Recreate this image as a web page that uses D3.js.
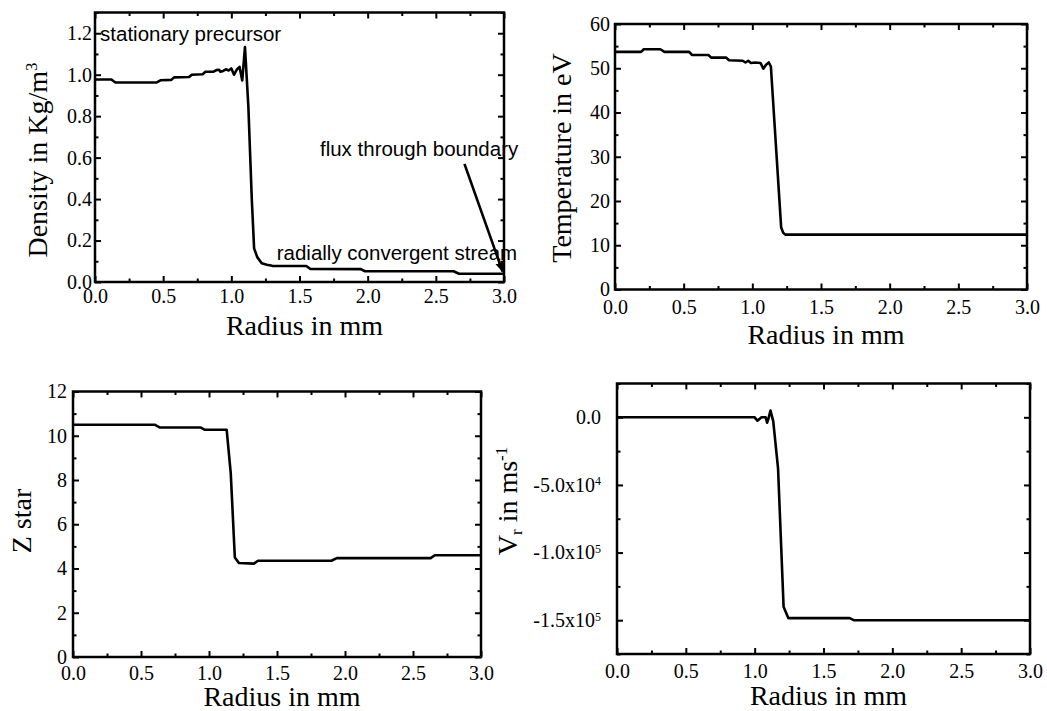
<!DOCTYPE html>
<html>
<head>
<meta charset="utf-8">
<script src="https://cdn.jsdelivr.net/npm/d3@7"></script>
<style>
  html, body { margin: 0; padding: 0; background: #fff; }
  svg { display: block; }
  .tick text { font-family: 'Liberation Serif', 'Times New Roman', serif !important; }
</style>
</head>
<body>
<svg id="chart" width="1047" height="711"></svg>
<script>
// ---------------- DATA ----------------
const xMajorTicks = [0, 0.5, 1.0, 1.5, 2.0, 2.5, 3.0];
const xMinorTicks = [0.25, 0.75, 1.25, 1.75, 2.25, 2.75];
const xTickLabels = ["0.0", "0.5", "1.0", "1.5", "2.0", "2.5", "3.0"];

// Density (Kg/m^3)
const densityR = [0, 0.12, 0.15, 0.45, 0.48, 0.56, 0.58, 0.69, 0.71, 0.79, 0.81, 0.87, 0.89, 0.91, 0.92, 0.94, 0.96, 0.98, 1.00, 1.02, 1.04, 1.06, 1.08, 1.10, 1.125, 1.15, 1.167, 1.19, 1.223, 1.26, 1.30, 1.55, 1.58, 1.95, 1.98, 2.63, 2.67, 3.0];
const densityV = [0.977, 0.977, 0.962, 0.962, 0.973, 0.975, 0.987, 0.989, 1.000, 1.002, 1.014, 1.015, 1.022, 1.024, 1.014, 1.018, 1.026, 1.020, 1.030, 1.000, 1.024, 1.038, 0.972, 1.133, 0.845, 0.40, 0.162, 0.12, 0.090, 0.083, 0.078, 0.077, 0.063, 0.062, 0.052, 0.052, 0.040, 0.040];
const densityTicks = [0, 0.2, 0.4, 0.6, 0.8, 1.0, 1.2];
const densityMinor = [0.1, 0.3, 0.5, 0.7, 0.9, 1.1, 1.3];
const densityTickLabels = ["0.0", "0.2", "0.4", "0.6", "0.8", "1.0", "1.2"];

// Temperature (eV)
const tempR = [0, 0.19, 0.21, 0.33, 0.36, 0.54, 0.56, 0.68, 0.70, 0.81, 0.83, 0.93, 0.95, 0.97, 0.99, 1.02, 1.06, 1.08, 1.10, 1.12, 1.135, 1.21, 1.225, 1.24, 3.0];
const tempV = [53.7, 53.7, 54.3, 54.3, 53.7, 53.7, 53.0, 53.0, 52.4, 52.4, 51.8, 51.7, 51.3, 51.7, 51.2, 51.3, 51.2, 49.9, 50.8, 51.3, 50.4, 14.0, 12.8, 12.4, 12.4];
const tempTicks = [0, 10, 20, 30, 40, 50, 60];
const tempMinor = [5, 15, 25, 35, 45, 55];
const tempTickLabels = ["0", "10", "20", "30", "40", "50", "60"];

// Z star
const zR = [0, 0.60, 0.64, 0.94, 0.97, 1.13, 1.16, 1.19, 1.22, 1.33, 1.36, 1.90, 1.94, 2.63, 2.66, 3.0];
const zV = [10.5, 10.5, 10.37, 10.37, 10.27, 10.27, 8.3, 4.5, 4.25, 4.22, 4.35, 4.35, 4.47, 4.47, 4.6, 4.6];
const zTicks = [0, 2, 4, 6, 8, 10, 12];
const zMinor = [1, 3, 5, 7, 9, 11];
const zTickLabels = ["0", "2", "4", "6", "8", "10", "12"];

// Radial velocity V_r (m/s)
const vrR = [0, 1.00, 1.02, 1.05, 1.08, 1.09, 1.10, 1.115, 1.135, 1.17, 1.21, 1.245, 1.69, 1.72, 3.0];
const vrV = [0, 0, -2500, 0, 0, -4000, -1000, 5000, -3000, -38000, -140000, -148500, -148500, -150000, -150000];
const vrTicks = [0, -50000, -100000, -150000];
const vrMinor = [25000, -25000, -75000, -125000, -175000];
const vrTickMantissa = ["0.0", "-5.0x10", "-1.0x10", "-1.5x10"];
const vrTickExponent = ["", "4", "5", "5"];

// ---------------- DRAWING ----------------
const svg = d3.select("#chart");
const SERIF = "'Liberation Serif', 'Times New Roman', serif";
const SANS = "'Liberation Sans', Arial, sans-serif";

const panels = [
  { box: { l: 95, r: 504, t: 12.5, b: 282 }, xs: densityR, ys: densityV, yDom: [0, 1.3],
    yTicks: densityTicks, yMinor: densityMinor, yLabels: densityTickLabels,
    yPad: 3, xPad: 7, title: [{ t: "Density in Kg/m" }, { t: "3", sup: true }], titleX: 47, titleY: 160,
    xTitleY: 335 },
  { box: { l: 615, r: 1027, t: 24, b: 289.5 }, xs: tempR, ys: tempV, yDom: [0, 60],
    yTicks: tempTicks, yMinor: tempMinor, yLabels: tempTickLabels,
    yPad: 5, xPad: 10, title: [{ t: "Temperature in eV" }], titleX: 571, titleY: 158,
    xTitleY: 344 },
  { box: { l: 73, r: 481, t: 391.5, b: 657 }, xs: zR, ys: zV, yDom: [0, 12],
    yTicks: zTicks, yMinor: zMinor, yLabels: zTickLabels,
    yPad: 6, xPad: 9, title: [{ t: "Z star" }], titleX: 31, titleY: 521,
    xTitleY: 706 },
  { box: { l: 617, r: 1030, t: 383.5, b: 654 }, xs: vrR, ys: vrV, yDom: [-175000, 25000],
    yTicks: vrTicks, yMinor: vrMinor, yLabels: null,
    yPad: 16, xPad: 10, title: [{ t: "V" }, { t: "r", sub: true }, { t: " in ms" }, { t: "-1", sup: true }], titleX: 517, titleY: 501,
    xTitleY: 705 }
];

function styleAxis(g) {
  g.attr("font-family", null).attr("font-size", null);
  g.select(".domain").remove();
  g.selectAll(".tick line").attr("stroke", "#000").attr("stroke-width", 2);
  g.selectAll(".tick text").attr("fill", "#000")
    .style("font-family", SERIF).style("font-size", "20px");
}

panels.forEach((p, i) => {
  const B = p.box;
  const x = d3.scaleLinear().domain([0, 3]).range([B.l, B.r]);
  const y = d3.scaleLinear().domain(p.yDom).range([B.b, B.t]);
  const g = svg.append("g");

  // minor ticks (all four sides, inward)
  g.append("g").attr("transform", `translate(0,${B.b})`)
    .call(d3.axisBottom(x).tickValues(xMinorTicks).tickSize(-3.5).tickFormat("")).call(styleAxis);
  g.append("g").attr("transform", `translate(0,${B.t})`)
    .call(d3.axisTop(x).tickValues(xMinorTicks).tickSize(-3.5).tickFormat("")).call(styleAxis);
  g.append("g").attr("transform", `translate(${B.l},0)`)
    .call(d3.axisLeft(y).tickValues(p.yMinor).tickSize(-3.5).tickFormat("")).call(styleAxis);
  g.append("g").attr("transform", `translate(${B.r},0)`)
    .call(d3.axisRight(y).tickValues(p.yMinor).tickSize(-3.5).tickFormat("")).call(styleAxis);

  // major ticks
  g.append("g").attr("transform", `translate(0,${B.b})`)
    .call(d3.axisBottom(x).tickValues(xMajorTicks).tickSize(-6).tickPadding(p.xPad)
      .tickFormat((d, k) => xTickLabels[k])).call(styleAxis);
  g.append("g").attr("transform", `translate(0,${B.t})`)
    .call(d3.axisTop(x).tickValues(xMajorTicks).tickSize(-6).tickFormat("")).call(styleAxis);
  const yAx = g.append("g").attr("transform", `translate(${B.l},0)`)
    .call(d3.axisLeft(y).tickValues(p.yTicks).tickSize(-6).tickPadding(p.yPad)
      .tickFormat((d, k) => p.yLabels ? p.yLabels[k] : vrTickMantissa[k])).call(styleAxis);
  g.append("g").attr("transform", `translate(${B.r},0)`)
    .call(d3.axisRight(y).tickValues(p.yTicks).tickSize(-6).tickFormat("")).call(styleAxis);

  if (!p.yLabels) {
    yAx.selectAll(".tick text").each(function (d, k) {
      const t = d3.select(this);
      t.text(null);
      t.append("tspan").text(vrTickMantissa[k]);
      if (vrTickExponent[k]) {
        t.append("tspan").attr("dy", "-0.55em").style("font-size", "12px").text(vrTickExponent[k]);
      }
    });
  }

  // frame
  g.append("rect").attr("x", B.l).attr("y", B.t).attr("width", B.r - B.l).attr("height", B.b - B.t)
    .attr("fill", "none").attr("stroke", "#000").attr("stroke-width", 2.5);

  // data line
  const pts = p.xs.map((r, k) => [r, p.ys[k]]);
  g.append("path").datum(pts)
    .attr("fill", "none").attr("stroke", "#000").attr("stroke-width", 2.6).attr("stroke-linejoin", "round")
    .attr("d", d3.line().x(d => x(d[0])).y(d => y(d[1])));

  // x title
  g.append("text").attr("x", (B.l + B.r) / 2 + 5).attr("y", p.xTitleY)
    .attr("text-anchor", "middle").style("font-family", SERIF).style("font-size", "28px").text("Radius in mm");

  // y title
  const yt = g.append("text").attr("transform", `translate(${p.titleX},${p.titleY}) rotate(-90)`)
    .attr("text-anchor", "middle").style("font-family", SERIF).style("font-size", "28px");
  p.title.forEach((part, k) => {
    const ts = yt.append("tspan").text(part.t);
    if (part.sup) ts.attr("dy", "-0.6em").style("font-size", "17px");
    else if (part.sub) ts.attr("dy", "0.3em").style("font-size", "17px");
    else if (k > 0 && p.title[k - 1].sub) ts.attr("dy", "-0.18em");
  });

  // annotations for density panel
  if (i === 0) {
    const ann = g.append("g").style("font-family", SANS).style("font-size", "20.5px").attr("fill", "#000");
    ann.append("text").attr("x", x(0.037)).attr("y", y(1.162)).text("stationary precursor");
    ann.append("text").attr("x", x(1.65)).attr("y", y(0.607)).text("flux through boundary");
    ann.append("text").attr("x", x(1.333)).attr("y", y(0.106)).text("radially convergent stream");
    svg.append("defs").append("marker").attr("id", "arrow").attr("viewBox", "0 0 10 10")
      .attr("refX", 9).attr("refY", 5).attr("markerWidth", 4).attr("markerHeight", 4)
      .attr("orient", "auto").append("path").attr("d", "M0,1 L10,5 L0,9 Z").attr("fill", "#000");
    g.append("line").attr("x1", x(2.71)).attr("y1", y(0.57)).attr("x2", x(2.99)).attr("y2", y(0.05))
      .attr("stroke", "#000").attr("stroke-width", 2.6).attr("marker-end", "url(#arrow)");
  }
});
</script>
</body>
</html>
